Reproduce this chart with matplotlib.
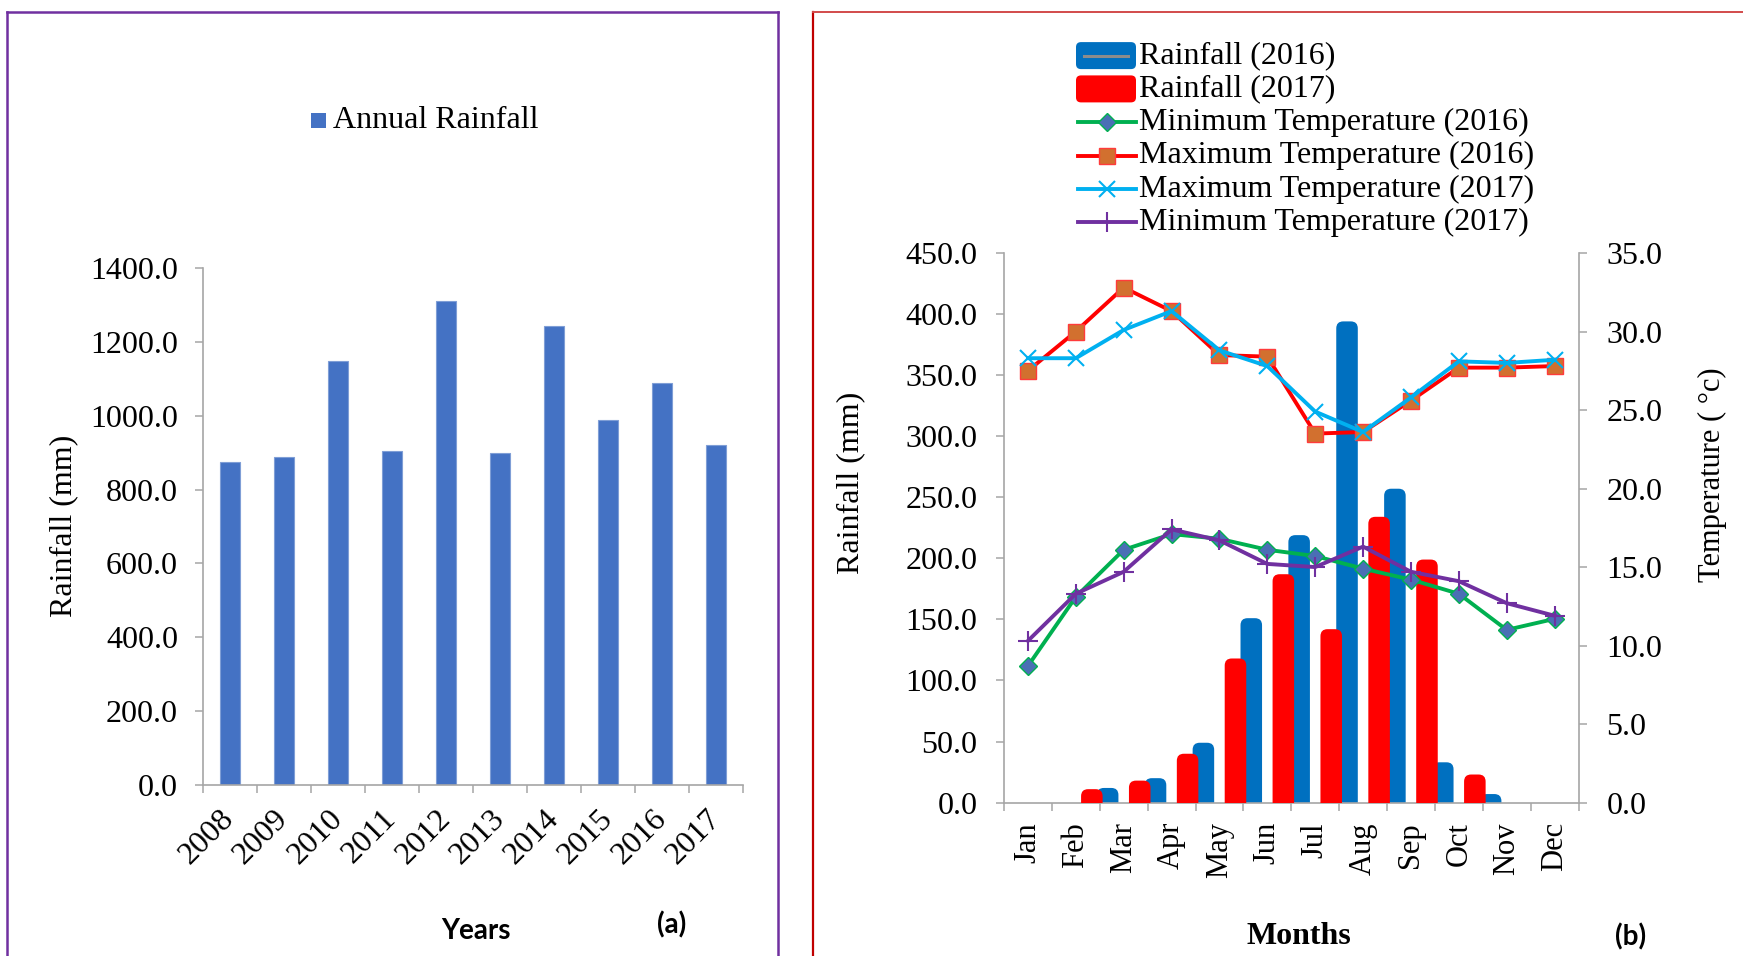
import matplotlib
matplotlib.use("Agg")
import matplotlib.pyplot as plt
import numpy as np
from matplotlib.patches import FancyBboxPatch, Rectangle
from matplotlib.lines import Line2D

# ---------------- data ----------------
years = ["2008", "2009", "2010", "2011", "2012", "2013", "2014", "2015", "2016", "2017"]
annual_rainfall = [876, 889, 1149, 905, 1311, 898, 1242, 988, 1089, 920]

months = ["Jan", "Feb", "Mar", "Apr", "May", "Jun", "Jul", "Aug", "Sep", "Oct", "Nov", "Dec"]
rain_2016 = [0, 12, 20, 49, 151, 219, 394, 257, 33, 7, 0, 0]
rain_2017 = [0, 11, 18, 40, 118, 187, 142, 234, 199, 23, 0, 0]
tmin_2016 = [8.7, 13.1, 16.1, 17.1, 16.8, 16.1, 15.7, 14.9, 14.2, 13.3, 11.0, 11.7]
tmax_2016 = [27.5, 30.0, 32.8, 31.3, 28.5, 28.4, 23.5, 23.6, 25.6, 27.7, 27.7, 27.8]
tmax_2017 = [28.3, 28.3, 30.1, 31.3, 28.8, 27.8, 24.9, 23.6, 25.8, 28.1, 28.0, 28.2]
tmin_2017 = [10.3, 13.3, 14.7, 17.4, 16.7, 15.2, 15.0, 16.3, 14.7, 14.1, 12.7, 11.9]

# ---------------- style ----------------
SERIF = ["Liberation Serif", "DejaVu Serif"]
plt.rcParams["font.family"] = SERIF
W, H = 1743, 956
fig = plt.figure(figsize=(W / 100, H / 100), dpi=100)
fig.patch.set_facecolor("white")

AXIS_GREY = "#A6A6A6"
TICK_FS = 23


def fx(x):
    return x / W


def fy(y):
    return 1 - y / H


def style_axis(ax):
    for s in ax.spines.values():
        s.set_color(AXIS_GREY)
        s.set_linewidth(1.2)


# ================= panel (a): annual rainfall =================
a_l, a_r, a_t, a_b = 203, 743, 268, 785
ax_a = fig.add_axes([fx(a_l), fy(a_b), (a_r - a_l) / W, (a_b - a_t) / H])
xa = np.arange(len(years))
ax_a.bar(xa, annual_rainfall, width=0.38, color="#4472C4",
         edgecolor="#7F9ED6", linewidth=0.8, zorder=2)
ax_a.set_xlim(-0.5, len(years) - 0.5)
ax_a.set_ylim(0, 1400)
yt = np.arange(0, 1401, 200)
ax_a.set_yticks(yt)
ax_a.set_yticklabels([f"{v:.1f}" for v in yt], fontsize=TICK_FS)
ax_a.set_xticks(np.arange(-0.5, len(years), 1.0))
ax_a.set_xticklabels([])
ax_a.set_xticks(xa, minor=True)
ax_a.set_xticklabels(years, minor=True, rotation=45, ha="right", va="center",
                     rotation_mode="anchor", fontsize=23)
ax_a.tick_params(axis="both", which="major", direction="out", length=6,
                 width=1.1, color=AXIS_GREY)
ax_a.tick_params(axis="y", pad=12)
ax_a.tick_params(axis="x", which="minor", length=0, pad=21)
style_axis(ax_a)
ax_a.spines["top"].set_visible(False)
ax_a.spines["right"].set_visible(False)
ax_a.set_ylabel("Rainfall (mm)", fontsize=23, va="center")
ax_a.yaxis.set_label_coords((64 - a_l) / (a_r - a_l), 0.501)

# legend of panel (a)
fig.add_artist(Rectangle((fx(311), fy(128)), 15 / W, 15 / H, transform=fig.transFigure,
                         facecolor="#4472C4", edgecolor="none"))
fig.text(fx(333), fy(120.5), "Annual Rainfall", fontsize=23, ha="left", va="center")

fig.text(fx(476), fy(931), "Years", family="Lato", weight="bold", fontsize=20,
         ha="center", va="center")
fig.text(fx(672), fy(925), "(a)", family="Lato", weight="bold", fontsize=20,
         ha="center", va="center")

# ================= panel (b): monthly rainfall & temperature =================
b_l, b_r, b_t, b_b = 1004, 1578.5, 253, 802.6
ax_b = fig.add_axes([fx(b_l), fy(b_b), (b_r - b_l) / W, (b_b - b_t) / H])
ax_b.set_xlim(-0.5, 11.5)
ax_b.set_ylim(0, 450)
xm = np.arange(len(months))

# rounded-top bars; each pair sits on the boundary after its month
px_x = (b_r - b_l) / 12.0
px_y = (b_b - b_t) / 450.0
aspect = px_x / px_y
r_x = 7.0 / px_x
r_y = r_x * aspect
bar_w = 0.45
for vals, off, col, z in ((rain_2016, 0.165, "#0070C0", 2), (rain_2017, -0.165, "#FF0000", 3)):
    for i, v in enumerate(vals):
        if v <= 0:
            continue
        xc = xm[i] + 0.5 + off
        p = FancyBboxPatch((xc - bar_w / 2, -r_y), bar_w, v + r_y,
                           boxstyle=f"round,pad=0,rounding_size={r_x}",
                           mutation_aspect=aspect, facecolor=col,
                           edgecolor="none", zorder=z)
        ax_b.add_patch(p)

yt_b = np.arange(0, 451, 50)
ax_b.set_yticks(yt_b)
ax_b.set_yticklabels([f"{v:.1f}" for v in yt_b], fontsize=TICK_FS)
ax_b.set_xticks(np.arange(-0.5, 12, 1.0))
ax_b.set_xticklabels([])
ax_b.set_xticks(xm, minor=True)
ax_b.set_xticklabels(months, minor=True, rotation=90, ha="center", va="top",
                     fontsize=22)
ax_b.tick_params(axis="both", which="major", direction="out", length=6,
                 width=1.1, color=AXIS_GREY)
ax_b.tick_params(axis="y", pad=13)
ax_b.tick_params(axis="x", which="minor", length=0, pad=14)
style_axis(ax_b)
ax_b.spines["top"].set_visible(False)
ax_b.spines["right"].set_visible(False)
ax_b.set_ylabel("Rainfall (mm)", fontsize=23, va="center")
ax_b.yaxis.set_label_coords((851 - b_l) / (b_r - b_l), (b_b - 483) / (b_b - b_t))

ax_t = ax_b.twinx()
ax_t.set_ylim(0, 35)
yt_t = np.arange(0, 36, 5)
ax_t.set_yticks(yt_t)
ax_t.set_yticklabels([f"{v:.1f}" for v in yt_t], fontsize=TICK_FS)
ax_t.tick_params(axis="y", direction="out", length=6, width=1.1,
                 color=AXIS_GREY, pad=14)
style_axis(ax_t)
for s in ("top", "left", "bottom"):
    ax_t.spines[s].set_visible(False)
fig.text(fx(1712), fy(475), "Temperature ( \u00b0c)", family=SERIF, fontsize=22,
         rotation=90, ha="center", va="center")

series = [
    ("Minimum Temperature (2016)", tmin_2016,
     dict(color="#00B050", marker="D", ms=9, mfc="#4A6FB5", mec="#00B050", mew=1.0)),
    ("Maximum Temperature (2016)", tmax_2016,
     dict(color="#FF0000", marker="s", ms=11, mfc="#D2702F", mec="#FF3B3B", mew=1.0)),
    ("Maximum Temperature (2017)", tmax_2017,
     dict(color="#00B0F0", marker="x", ms=11, mew=1.5)),
    ("Minimum Temperature (2017)", tmin_2017,
     dict(color="#7030A0", marker="+", ms=14, mew=1.5)),
]
for k, (name, vals, st) in enumerate(series):
    ax_t.plot(xm, vals, lw=2.8, zorder=4 + k, **st)

# legend of panel (b)
leg_rows = [55.6, 88.9, 122.2, 155.6, 189.0, 222.2]
leg_text_x = 1139
rnd = 5.0 / W
for row, col in ((leg_rows[0], "#0070C0"), (leg_rows[1], "#FF0000")):
    box = FancyBboxPatch((fx(1076), fy(row + 13.5)), 60 / W, 27 / H,
                         boxstyle=f"round,pad=0,rounding_size={rnd}",
                         mutation_aspect=W / H, transform=fig.transFigure,
                         facecolor=col, edgecolor="none")
    fig.add_artist(box)
fig.add_artist(Line2D([fx(1084), fx(1128)], [fy(leg_rows[0])] * 2,
                      transform=fig.transFigure, color="#8C8C8C", lw=2.2))
fig.text(fx(leg_text_x), fy(leg_rows[0]), "Rainfall (2016)", fontsize=23,
         ha="left", va="center")
fig.text(fx(leg_text_x), fy(leg_rows[1]), "Rainfall (2017)", fontsize=23,
         ha="left", va="center")
for (name, vals, st), row in zip(series, leg_rows[2:]):
    fig.add_artist(Line2D([fx(1078), fx(1107), fx(1136)], [fy(row)] * 3,
                          transform=fig.transFigure, lw=2.8, markevery=[1], **st))
    fig.text(fx(leg_text_x), fy(row), name, fontsize=23, ha="left", va="center")

fig.text(fx(1299), fy(936), "Months", weight="bold", fontsize=23,
         ha="center", va="center")
fig.text(fx(1631), fy(937), "(b)", family="Lato", weight="bold", fontsize=20,
         ha="center", va="center")

# ---------------- panel frames ----------------
purple = "#7030A0"
for xs, ys in (([6.7, 6.7], [11.7, 956]), ([6.7, 777.7], [11.7, 11.7]),
               ([777.7, 777.7], [11.7, 956])):
    fig.add_artist(Line2D([fx(v) for v in xs], [fy(v) for v in ys],
                          transform=fig.transFigure, color=purple, lw=1.8))
fig.add_artist(Line2D([fx(813), fx(813)], [fy(11.7), fy(956)],
                      transform=fig.transFigure, color="#C00000", lw=1.6))
fig.add_artist(Line2D([fx(813), fx(1743)], [fy(11.7), fy(11.7)],
                      transform=fig.transFigure, color="#D24B4B", lw=1.4))

fig.savefig("out.png", dpi=100, facecolor="white")
